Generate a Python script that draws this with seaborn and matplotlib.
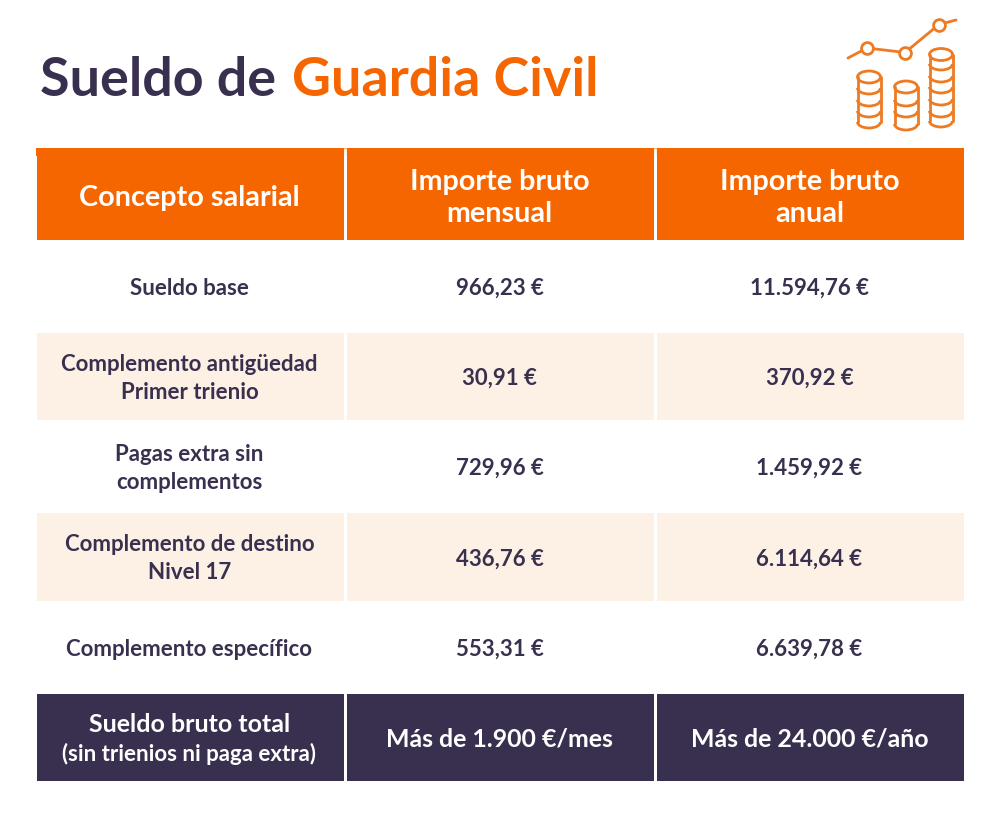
import numpy as np
import pandas as pd
import seaborn as sns
import matplotlib
matplotlib.use("Agg")
import matplotlib.pyplot as plt
from matplotlib.colors import ListedColormap
from matplotlib.patches import Ellipse, Arc

columns = ["Concepto salarial", "Importe bruto\nmensual", "Importe bruto\nanual"]
concepts = ["Sueldo base", "Complemento antigüedad\nPrimer trienio", "Pagas extra sin\ncomplementos",
            "Complemento de destino\nNivel 17", "Complemento específico",
            "Sueldo bruto total"]
total_note = "(sin trienios ni paga extra)"
monthly = ["966,23 €", "30,91 €", "729,96 €", "436,76 €", "553,31 €", "Más de 1.900 €/mes"]
yearly = ["11.594,76 €", "370,92 €", "1.459,92 €", "6.114,64 €", "6.639,78 €", "Más de 24.000 €/año"]
row_kind = [0, 1, 2, 1, 2, 1, 3]  # 0 header, 1 white, 2 cream, 3 dark

ORANGE, CREAM, WHITE, DARK = "#F56600", "#FDF1E6", "#FFFFFF", "#39304F"
FONT = "Lato"

sns.set_theme(style="white")
plt.rcParams["font.family"] = [FONT, "DejaVu Sans"]

W, H = 1000, 833
fig = plt.figure(figsize=(W / 100, H / 100), dpi=100, facecolor="white")

labels = np.array([columns] + [list(r) for r in zip(concepts, monthly, yearly)], dtype=object)
kinds = np.array([[k] * 3 for k in row_kind])
table = pd.DataFrame(kinds)

ax = fig.add_axes([34.5 / W, 1 - 782.2 / H, 930 / W, 634.4 / H])
sns.heatmap(table, ax=ax, cmap=ListedColormap([ORANGE, WHITE, CREAM, DARK]), vmin=0, vmax=3,
            cbar=False, linewidths=2, linecolor="white", xticklabels=False, yticklabels=False,
            annot=labels, fmt="", annot_kws={"fontweight": "bold"})
ax.set_xlabel("")
ax.set_ylabel("")

# The header band is a little taller than the other rows
ax.set_ylim(7, -0.03)
ax.axhspan(-0.03, 0.06, xmin=1 / 930, xmax=929 / 930, color=ORANGE, lw=0, zorder=3)
ax.vlines([1, 2], -0.03, 0.06, color="white", lw=2, zorder=3.1)

for txt, (r, c) in zip(ax.texts, [(r, c) for r in range(7) for c in range(3)]):
    kind = row_kind[r]
    txt.set_color("white" if kind in (0, 3) else DARK)
    txt.set_fontsize({0: 20.7, 3: 17.9}.get(kind, 16))
    txt.set_linespacing({0: 1.3}.get(kind, 1.4))
    txt.set_y(txt.get_position()[1] + 0.025)

# Two-size label of the total row
first = ax.texts[18]
first.set_fontsize(18)
first.set_y(6.36)
ax.text(0.5, 6.685, total_note, ha="center", va="center", color="white",
        fontsize=16, fontweight="bold")

# Title
fig.text(40 / W, 1 - 81 / H, "Sueldo de ", fontsize=38.8, fontweight="bold", color=DARK, va="center", ha="left")
fig.text(292 / W, 1 - 81 / H, "Guardia Civil", fontsize=38.8, fontweight="bold", color=ORANGE, va="center", ha="left")

# Icon, in pixel coordinates
ov = fig.add_axes([0, 0, 1, 1], facecolor="none")
ov.set_xlim(0, W)
ov.set_ylim(H, 0)
ov.axis("off")
ICON = "#EE7A22"
line_x = [848, 867, 905, 939, 956]
line_y = [58, 48, 52.5, 24.5, 20]
ov.plot(line_x, line_y, color=ICON, lw=2, solid_capstyle="round")
ov.plot(line_x[1:4], line_y[1:4], ls="", marker="o", ms=8.5, mfc="white", mec=ICON, mew=2)

stack_x = [869, 906, 941]
stack_top = [77, 87, 54.5]
stack_arcs = [[88, 100, 111, 122], [100, 111, 124], [64, 76, 87, 99, 111, 121]]
for x, top, arcs in zip(stack_x, stack_top, stack_arcs):
    ov.add_patch(Ellipse((x, top), 23, 12, fill=False, ec=ICON, lw=2))
    for y in arcs:
        ov.add_patch(Arc((x, y), 23, 12, theta1=0, theta2=180, ec=ICON, lw=2))
    ov.plot([x - 11.5, x - 11.5], [top, arcs[-1]], color=ICON, lw=2)
    ov.plot([x + 11.5, x + 11.5], [top, arcs[-1]], color=ICON, lw=2)

fig.savefig("out.png", dpi=100, facecolor="white")
